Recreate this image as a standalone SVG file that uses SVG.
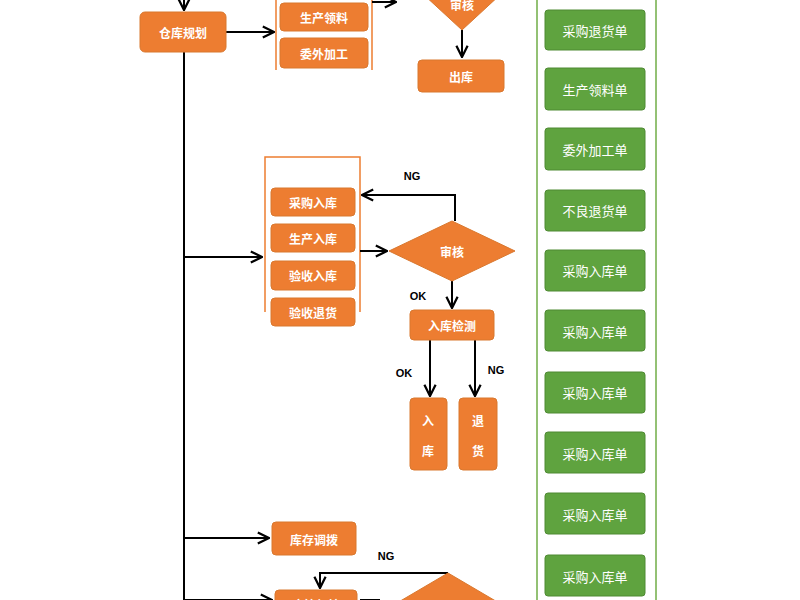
<svg xmlns="http://www.w3.org/2000/svg" width="800" height="600" viewBox="0 0 800 600">
<defs>
<marker id="ah" viewBox="0 0 10 10" refX="9" refY="5" markerWidth="7" markerHeight="7" orient="auto"><path d="M1,1 L9,5 L1,9" fill="none" stroke="#000" stroke-width="1.6"/></marker>
<style>
.o{fill:#ed7d31;stroke:#d9782f;stroke-width:1}
.g{fill:#5fa33f;stroke:#4f8a33;stroke-width:1}
.t{font-family:"Noto Sans CJK SC","Liberation Sans",sans-serif;font-size:12px;font-weight:bold;fill:#fff;text-anchor:middle;dominant-baseline:central}
.w{font-family:"Noto Sans CJK SC","Liberation Sans",sans-serif;font-size:13px;fill:#fff;text-anchor:middle;dominant-baseline:central}
.l{font-family:"Liberation Sans",sans-serif;font-size:11px;font-weight:bold;fill:#000;text-anchor:middle}
.c{fill:none;stroke:#000;stroke-width:2}
.b{fill:none;stroke:#ed7d31;stroke-width:1.5}
</style>
</defs>
<rect width="800" height="600" fill="#fff"/>
<g id="panel"><rect x="537" y="-5" width="119" height="610" fill="none" stroke="#70ad47" stroke-width="1.5"/></g>
<g id="brackets">
<path class="b" d="M276,0 V70 M372,0 V70"/>
<path class="b" d="M265,312 V157 H360 V312"/>
</g>
<g id="connectors">
<path class="c" d="M184,0 V10" marker-end="url(#ah)"/>
<path class="c" d="M184,52 V600"/>
<path class="c" d="M226,32 H274" marker-end="url(#ah)"/>
<path class="c" d="M372,2 H396" marker-end="url(#ah)"/>
<path class="c" d="M462,30 V57" marker-end="url(#ah)"/>
<path class="c" d="M184,257 H262" marker-end="url(#ah)"/>
<path class="c" d="M360,251 H387" marker-end="url(#ah)"/>
<path class="c" d="M455,221 V195 H362" marker-end="url(#ah)"/>
<path class="c" d="M452,281 V308" marker-end="url(#ah)"/>
<path class="c" d="M430,340 V396" marker-end="url(#ah)"/>
<path class="c" d="M475,340 V396" marker-end="url(#ah)"/>
<path class="c" d="M184,538 H269" marker-end="url(#ah)"/>
<path class="c" d="M448,573 H320 V588" marker-end="url(#ah)"/>
<path class="c" d="M184,600 H272" marker-end="url(#ah)"/>
<path class="c" d="M360,600 H380"/>
</g>
<g id="labels">
<text class="l" x="412" y="180">NG</text>
<text class="l" x="418" y="300">OK</text>
<text class="l" x="404" y="377">OK</text>
<text class="l" x="496" y="374">NG</text>
<text class="l" x="386" y="560">NG</text>
</g>
<g id="n1"><rect class="o" x="140" y="12" width="86" height="40" rx="5"/><text class="t" x="183" y="32">仓库规划</text></g>
<g id="n2"><rect class="o" x="280" y="3" width="88" height="28" rx="4"/><text class="t" x="324" y="17">生产领料</text></g>
<g id="n3"><rect class="o" x="280" y="38" width="88" height="30" rx="4"/><text class="t" x="324" y="53">委外加工</text></g>
<g id="d1"><polygon class="o" points="397,-30 527,-30 462,30 397,-30"/><text class="t" x="462" y="4">审核</text></g>
<g id="n4"><rect class="o" x="418" y="60" width="86" height="32" rx="4"/><text class="t" x="461" y="76">出库</text></g>
<g id="n5"><rect class="o" x="271" y="188" width="84" height="28" rx="4"/><text class="t" x="313" y="202">采购入库</text></g>
<g id="n6"><rect class="o" x="271" y="224" width="84" height="28" rx="4"/><text class="t" x="313" y="238">生产入库</text></g>
<g id="n7"><rect class="o" x="271" y="261" width="84" height="29" rx="4"/><text class="t" x="313" y="275">验收入库</text></g>
<g id="n8"><rect class="o" x="271" y="298" width="84" height="28" rx="4"/><text class="t" x="313" y="312">验收退货</text></g>
<g id="d2"><polygon class="o" points="389,251 452,221 515,251 452,281"/><text class="t" x="452" y="251">审核</text></g>
<g id="n9"><rect class="o" x="410" y="310" width="84" height="30" rx="4"/><text class="t" x="452" y="325">入库检测</text></g>
<g id="n10"><rect class="o" x="410" y="398" width="37" height="72" rx="4"/><text class="t" x="428" y="420">入</text><text class="t" x="428" y="450">库</text></g>
<g id="n11"><rect class="o" x="459" y="398" width="38" height="72" rx="4"/><text class="t" x="478" y="420">退</text><text class="t" x="478" y="450">货</text></g>
<g id="n12"><rect class="o" x="272" y="522" width="84" height="33" rx="4"/><text class="t" x="314" y="539">库存调拨</text></g>
<g id="n13"><rect class="o" x="275" y="590" width="82" height="30" rx="4"/><text class="t" x="316" y="604">库管复核</text></g>
<g id="d3"><polygon class="o" points="385,610 448,573 511,610"/></g>
<g id="g1"><rect class="g" x="545" y="10" width="100" height="40" rx="3"/><text class="w" x="595" y="30">采购退货单</text></g>
<g id="g2"><rect class="g" x="545" y="68" width="100" height="42" rx="3"/><text class="w" x="595" y="89">生产领料单</text></g>
<g id="g3"><rect class="g" x="545" y="128" width="100" height="42" rx="3"/><text class="w" x="595" y="149">委外加工单</text></g>
<g id="g4"><rect class="g" x="545" y="190" width="100" height="41" rx="3"/><text class="w" x="595" y="210">不良退货单</text></g>
<g id="g5"><rect class="g" x="545" y="250" width="100" height="41" rx="3"/><text class="w" x="595" y="270">采购入库单</text></g>
<g id="g6"><rect class="g" x="545" y="310" width="100" height="41" rx="3"/><text class="w" x="595" y="331">采购入库单</text></g>
<g id="g7"><rect class="g" x="545" y="372" width="100" height="41" rx="3"/><text class="w" x="595" y="392">采购入库单</text></g>
<g id="g8"><rect class="g" x="545" y="432" width="100" height="41" rx="3"/><text class="w" x="595" y="453">采购入库单</text></g>
<g id="g9"><rect class="g" x="545" y="493" width="100" height="41" rx="3"/><text class="w" x="595" y="514">采购入库单</text></g>
<g id="g10"><rect class="g" x="545" y="555" width="100" height="41" rx="3"/><text class="w" x="595" y="576">采购入库单</text></g>
</svg>
